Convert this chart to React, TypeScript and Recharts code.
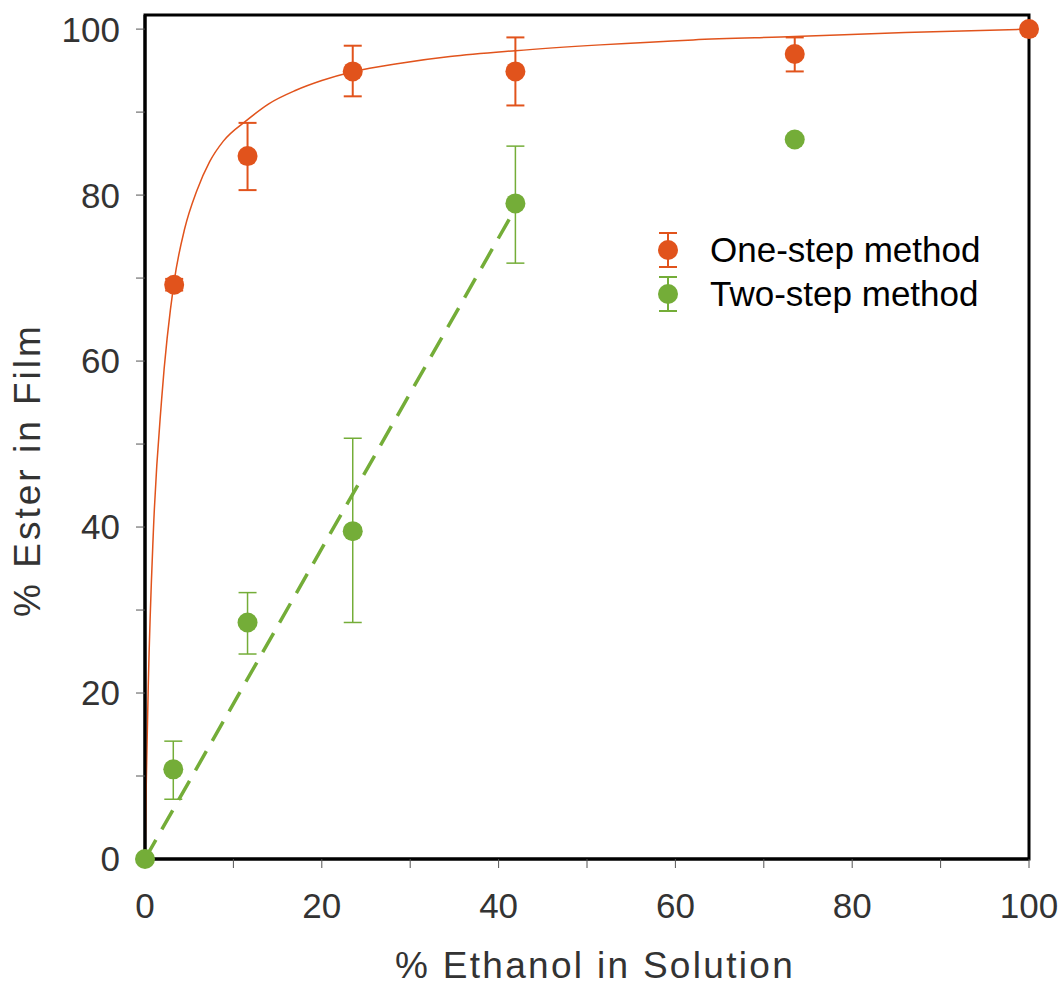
import React from 'react';
import {
    ComposedChart,
    Scatter,
    Line,
    XAxis,
    YAxis,
    ErrorBar,
    ReferenceArea,
    Legend,
} from 'recharts';

// measured points (x = % ethanol, y = % ester)
const ONE_STEP_X = [3.3, 11.6, 23.5, 41.9, 73.5, 100];
const ONE_STEP_Y = [69.2, 84.7, 94.9, 94.9, 97.0, 100];
const ONE_STEP_ERR_LOW = [0.7, 4.1, 3.0, 4.1, 2.1, 0];
const ONE_STEP_ERR_HIGH = [0.7, 4.0, 3.1, 4.1, 2.0, 0];

const TWO_STEP_X = [0, 3.2, 11.6, 23.5, 41.9, 73.5];
const TWO_STEP_Y = [0, 10.8, 28.5, 39.5, 79.0, 86.7];
const TWO_STEP_ERR_LOW = [0, 3.6, 3.8, 11.0, 7.2, 0];
const TWO_STEP_ERR_HIGH = [0, 3.4, 3.6, 11.2, 6.9, 0];

// fitted curves
const ONE_STEP_FIT_X = [0, 0.15, 0.37, 0.94, 1.89, 3.3, 4.5, 5.85, 7.3, 8.86, 11.5, 14, 17, 20, 23.6, 28.9, 34.5, 41.9, 51.5, 62, 73.5, 86, 100];
const ONE_STEP_FIT_Y = [0, 9.5, 20.9, 39.3, 55.5, 69.6, 76, 80.5, 84, 86.5, 89, 91, 92.6, 93.8, 94.9, 95.9, 96.7, 97.4, 98.1, 98.7, 99.1, 99.6, 100];
const TWO_STEP_FIT_X = [0, 41.9];
const TWO_STEP_FIT_Y = [0, 78.4];

const X_TICKS = [0, 10, 20, 30, 40, 50, 60, 70, 80, 90, 100];
const Y_TICKS = [0, 10, 20, 30, 40, 50, 60, 70, 80, 90, 100];
const Y_MAX = 101.7;

const SERIES_NAMES = ['One-step method', 'Two-step method'];
const COLORS = {
    oneStep: '#E1531C',
    twoStep: '#74AD38',
};

const FONT = '"Liberation Sans", Arial, Helvetica, sans-serif';

const oneStepData = ONE_STEP_X.map((x, i) => ({
    x,
    y: ONE_STEP_Y[i],
    err: [ONE_STEP_ERR_LOW[i], ONE_STEP_ERR_HIGH[i]],
}));
const twoStepData = TWO_STEP_X.map((x, i) => ({
    x,
    y: TWO_STEP_Y[i],
    err: [TWO_STEP_ERR_LOW[i], TWO_STEP_ERR_HIGH[i]],
}));
const oneStepFit = ONE_STEP_FIT_X.map((x, i) => ({ x, y: ONE_STEP_FIT_Y[i] }));
const twoStepFit = TWO_STEP_FIT_X.map((x, i) => ({ x, y: TWO_STEP_FIT_Y[i] }));

const dot = (color: string) => (props: any) => (
    <circle cx={props.cx} cy={props.cy} r={10} fill={color} />
);

const tickFmt = (v: number) => (v % 20 === 0 ? String(v) : '');

const XTitle = (props: any) => {
    const vb = props.viewBox || { x: 145, y: 859, width: 884, height: 128 };
    return (
        <text
            x={vb.x + vb.width / 2 + 8}
            y={vb.y + vb.height - 9}
            textAnchor="middle"
            fontFamily={FONT}
            fontSize={37}
            letterSpacing={2.3}
            fill="#333"
        >
            % Ethanol in Solution
        </text>
    );
};

const YTitle = () => (
    <text
        x={40}
        y={470}
        transform="rotate(-90, 40, 470)"
        textAnchor="middle"
        fontFamily={FONT}
        fontSize={37}
        letterSpacing={3}
        fill="#333"
    >
        % Ester in Film
    </text>
);

const LegendIcon = ({ color }: { color: string }) => (
    <svg width={32} height={44}>
        <line x1={16} y1={5} x2={16} y2={39} stroke={color} strokeWidth={2} />
        <line x1={7} y1={5} x2={25} y2={5} stroke={color} strokeWidth={2} />
        <line x1={7} y1={39} x2={25} y2={39} stroke={color} strokeWidth={2} />
        <circle cx={16} cy={22} r={10} fill={color} />
    </svg>
);

const LegendContent = () => {
    const colors = [COLORS.oneStep, COLORS.twoStep];
    return (
        <div style={{ fontFamily: FONT, fontSize: 35, color: '#000' }}>
            {SERIES_NAMES.map((name, i) => (
                <div key={name} style={{ display: 'flex', alignItems: 'center', height: 44 }}>
                    <LegendIcon color={colors[i]} />
                    <span style={{ marginLeft: 26, whiteSpace: 'nowrap' }}>{name}</span>
                </div>
            ))}
        </div>
    );
};

export default function App() {
    return (
        <div style={{ position: 'absolute', left: 0, top: 0, background: '#fff' }}>
            <ComposedChart
                width={1063}
                height={987}
                margin={{ top: 15, right: 34, bottom: 0, left: 0 }}
            >
                <XAxis
                    type="number"
                    dataKey="x"
                    domain={[0, 100]}
                    ticks={X_TICKS}
                    tickFormatter={tickFmt}
                    interval={0}
                    height={128}
                    tickSize={9}
                    tickMargin={25}
                    axisLine={{ stroke: '#000', strokeWidth: 3 }}
                    tickLine={{ stroke: '#555', strokeWidth: 1 }}
                    tick={{ fontFamily: FONT, fontSize: 35, fill: '#333' }}
                    label={<XTitle />}
                />
                <YAxis
                    type="number"
                    dataKey="y"
                    domain={[0, Y_MAX]}
                    ticks={Y_TICKS}
                    tickFormatter={tickFmt}
                    interval={0}
                    width={145}
                    tickSize={9}
                    tickMargin={16}
                    axisLine={{ stroke: '#000', strokeWidth: 3 }}
                    tickLine={{ stroke: '#555', strokeWidth: 1 }}
                    tick={{ fontFamily: FONT, fontSize: 35, fill: '#333' }}
                    label={<YTitle />}
                />
                <ReferenceArea
                    x1={0}
                    x2={100}
                    y1={0}
                    y2={Y_MAX}
                    fill="none"
                    fillOpacity={0}
                    stroke="#000"
                    strokeWidth={3}
                    ifOverflow="visible"
                />
                <Line
                    data={oneStepFit}
                    dataKey="y"
                    type="monotone"
                    stroke={COLORS.oneStep}
                    strokeWidth={1.5}
                    dot={false}
                    activeDot={false}
                    isAnimationActive={false}
                    legendType="none"
                />
                <Line
                    data={twoStepFit}
                    dataKey="y"
                    type="linear"
                    stroke={COLORS.twoStep}
                    strokeWidth={3.5}
                    strokeDasharray="22 12"
                    dot={false}
                    activeDot={false}
                    isAnimationActive={false}
                    legendType="none"
                />
                <Scatter
                    name={SERIES_NAMES[0]}
                    data={oneStepData}
                    dataKey="y"
                    fill={COLORS.oneStep}
                    shape={dot(COLORS.oneStep)}
                    isAnimationActive={false}
                >
                    <ErrorBar dataKey="err" direction="y" width={9} stroke={COLORS.oneStep} strokeWidth={2} />
                </Scatter>
                <Scatter
                    name={SERIES_NAMES[1]}
                    data={twoStepData}
                    dataKey="y"
                    fill={COLORS.twoStep}
                    shape={dot(COLORS.twoStep)}
                    isAnimationActive={false}
                >
                    <ErrorBar dataKey="err" direction="y" width={9} stroke={COLORS.twoStep} strokeWidth={1.5} />
                </Scatter>
                <Legend
                    layout="vertical"
                    align="center"
                    verticalAlign="middle"
                    content={<LegendContent />}
                    wrapperStyle={{ left: 652, top: 228, width: 'auto' }}
                />
            </ComposedChart>
        </div>
    );
}
